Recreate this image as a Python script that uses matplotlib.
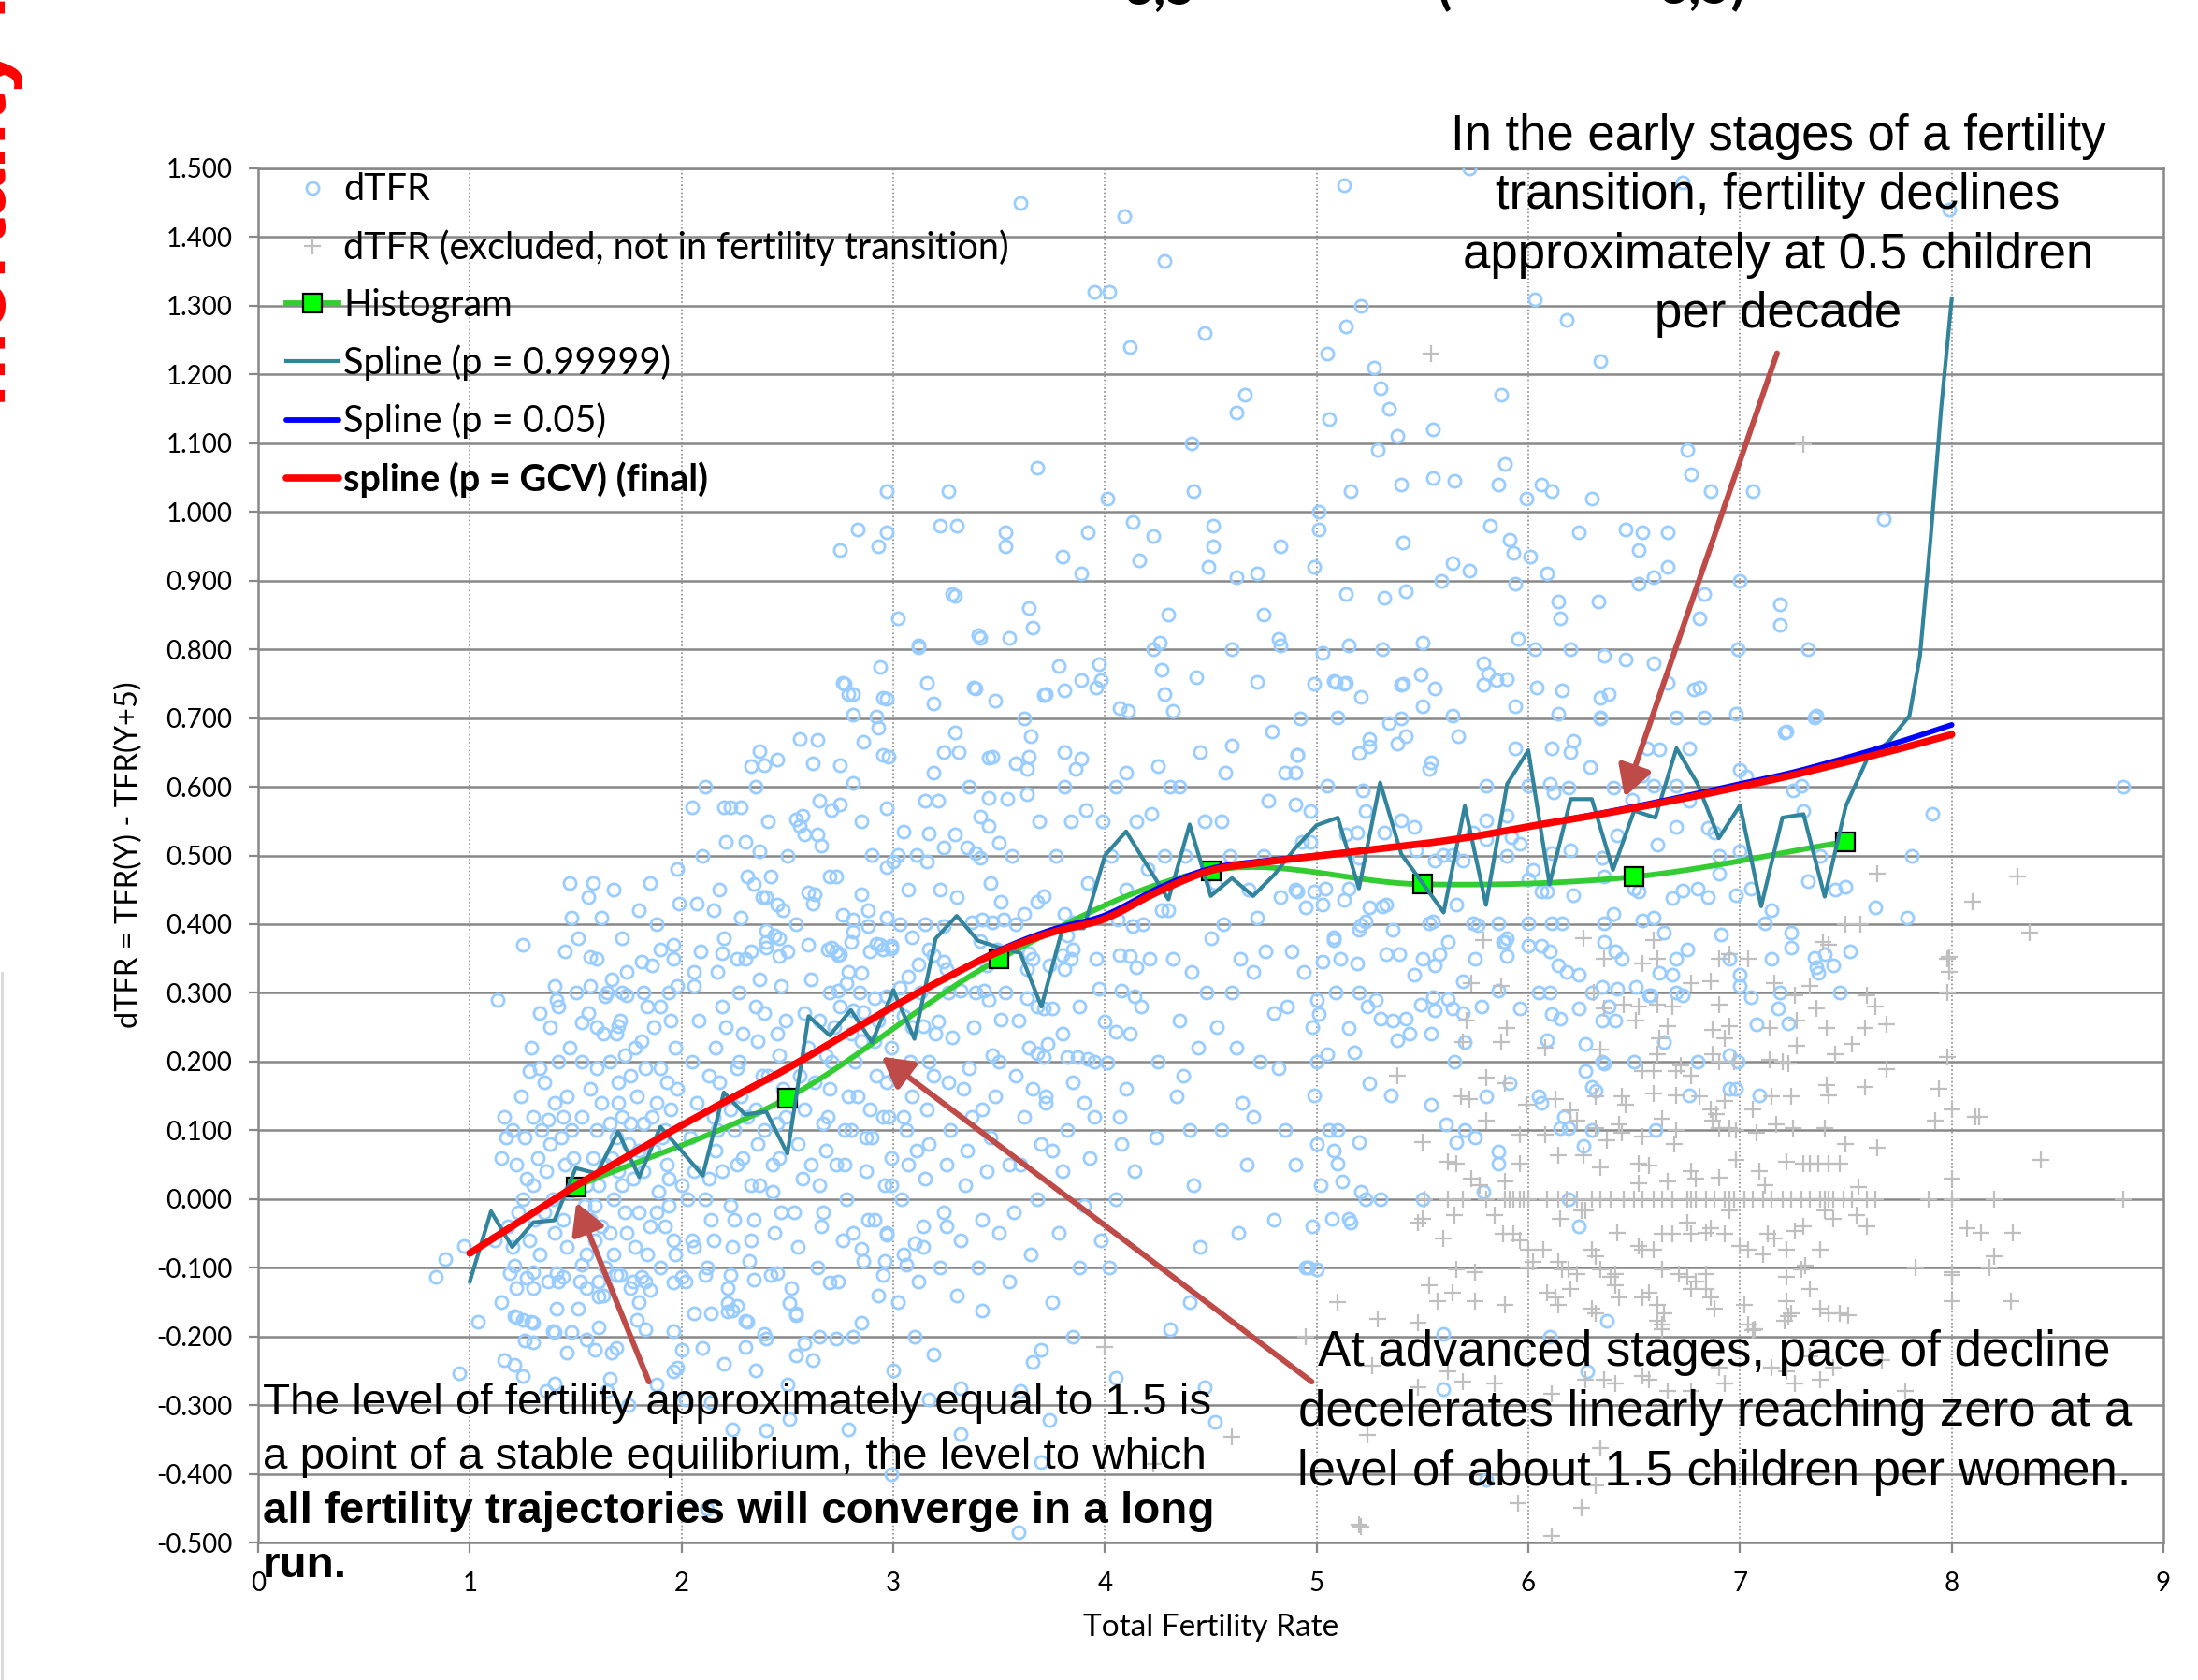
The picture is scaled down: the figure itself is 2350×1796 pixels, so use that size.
import matplotlib
matplotlib.use("Agg")
import matplotlib.pyplot as plt
from matplotlib.lines import Line2D
import numpy as np

# ---------------------------------------------------------------- data
# dTFR observations (open circles), grouped by TFR range
dtfr_pts_a = [(0.84,-0.113),(0.885,-0.088),(0.97,-0.068),(0.95,-0.253),(1.04,-0.179),(1.13,0.29),(1.25,0.37),
    (1.28,0.186),(1.37,0.116),(1.41,0.29),(1.16,-0.235),(1.21,-0.242),(1.25,-0.258),(1.30,-0.208),(1.21,-0.171),
    (1.25,-0.176),(1.30,-0.18),(1.40,-0.269),(1.40,-0.194),(1.48,-0.194),(1.46,-0.224),(1.22,-0.172),(1.29,-0.179),
    (1.26,-0.206),(1.39,-0.192),(1.30,-0.106),(1.27,-0.115),(1.19,-0.108),(1.21,-0.097),(1.41,-0.108),(1.44,-0.113),
    (1.15,0.06),(1.17,0.09),(1.2,0.1),(1.22,0.05),(1.25,0.0),(1.18,-0.04),(1.2,-0.07),(1.15,-0.15),(1.3,-0.13),
    (1.28,-0.06),(1.3,0.02),(1.32,0.06),(1.3,0.12),(1.35,0.17),(1.33,0.19),(1.38,0.08),(1.4,0.14),(1.42,0.2),
    (1.38,0.25),(1.4,0.31),(1.45,0.36),(1.48,0.41),(1.47,0.46),(1.35,-0.02),(1.4,-0.05),(1.42,-0.12),(1.45,0.05),
    (1.48,0.1),(1.46,0.15),(1.42,0.28),(1.36,-0.28),(1.22,-0.13),(1.12,-0.06),(1.33,-0.08),(1.44,-0.03),
    (1.47,0.01),(1.36,0.04),(1.43,0.09),(1.26,0.09),(1.16,0.12),
    (1.23,-0.02),(1.27,0.03),(1.31,-0.03),(1.34,0.1),(1.37,-0.12),(1.39,0.0),(1.41,-0.16),(1.44,0.12),
    (1.46,-0.07),(1.49,0.06),(1.51,-0.16),(1.53,0.12),(1.55,-0.13),(1.57,0.16),(1.59,-0.01),(1.24,0.15),
    (1.29,0.22),(1.33,0.27),(1.47,0.22),(1.5,0.3)]
dtfr_pts_b = [(1.55,-0.205),(1.59,-0.219),(1.67,-0.224),(1.69,-0.217),(1.61,-0.187),(1.66,-0.262),(1.79,-0.176),
    (1.83,-0.19),(1.96,-0.192),(1.98,-0.246),(1.96,-0.251),(1.53,-0.095),(1.61,-0.12),(1.61,-0.142),(1.69,-0.111),
    (1.77,-0.12),(1.81,-0.113),(1.85,-0.133),(1.96,-0.122),(2.0,-0.113),(1.57,0.352),(1.53,0.257),(1.70,0.252),
    (1.74,0.297),(1.64,0.295),(1.67,0.32),(1.81,0.345),(1.90,0.363),(1.96,0.35),
    (1.52,-0.12),(1.55,-0.08),(1.57,-0.03),(1.55,0.02),(1.58,0.06),(1.6,0.1),(1.62,0.14),(1.6,0.19),(1.63,0.24),
    (1.65,0.3),(1.6,0.35),(1.62,0.41),(1.58,0.46),(1.64,-0.1),(1.66,-0.05),(1.68,0.0),(1.7,0.04),(1.69,0.09),
    (1.72,0.12),(1.7,0.17),(1.73,0.21),(1.71,0.26),(1.74,0.33),(1.72,0.38),(1.76,-0.13),(1.78,-0.07),(1.8,-0.02),
    (1.77,0.03),(1.8,0.07),(1.82,0.11),(1.79,0.15),(1.83,0.19),(1.81,0.23),(1.84,0.28),(1.86,0.34),(1.88,0.4),
    (1.85,0.46),(1.9,-0.1),(1.92,-0.04),(1.89,0.01),(1.93,0.05),(1.91,0.09),(1.95,0.13),(1.93,0.17),(1.97,0.22),
    (1.95,0.26),(1.98,0.31),(1.96,0.37),(1.99,0.43),(1.98,0.48),(1.53,0.2),(1.56,0.27),(1.57,0.31),(1.51,0.38),
    (1.54,-0.01),(1.59,-0.06),(1.67,0.06),(1.75,0.08),(1.87,0.07),(1.94,-0.01),(1.61,0.02),(1.73,-0.02),
    (1.85,-0.04),(1.88,0.14),(1.76,0.18),(1.66,0.2),(1.69,0.24),(1.82,0.3),(1.9,0.28),(1.63,-0.14),(1.71,-0.11),
    (1.83,-0.12),(1.97,-0.08),(1.8,0.42),(1.68,0.45),(1.56,0.44),
    (1.62,-0.04),(1.64,0.05),(1.66,0.11),(1.68,-0.08),(1.7,0.14),(1.72,0.02),(1.74,-0.05),(1.76,0.11),
    (1.78,0.22),(1.8,-0.15),(1.82,0.04),(1.84,-0.08),(1.86,0.12),(1.88,-0.02),(1.9,0.19),(1.92,0.1),(1.94,0.03),
    (1.96,-0.06),(1.98,0.16),(2.0,0.02),(1.65,-0.28),(1.75,-0.3),(1.88,-0.27),(2.0,-0.22),(1.72,0.3),(1.6,0.25),
    (1.87,0.25),(1.94,0.3)]
dtfr_pts_c = [(2.06,-0.167),(2.14,-0.167),(2.22,-0.164),(2.30,-0.178),(2.24,-0.162),(2.10,-0.217),(2.30,-0.215),
    (2.39,-0.196),(2.40,-0.203),(2.40,-0.337),(2.24,-0.335),(2.02,-0.292),(2.14,-0.296),(2.12,-0.451),(2.06,-0.07),
    (2.11,-0.111),(2.22,-0.151),(2.26,-0.156),(2.31,-0.179),(2.23,-0.111),(2.34,-0.117),(2.45,-0.108),(2.06,0.331),
    (2.19,0.358),(2.26,0.35),(2.33,0.361),(2.40,0.374),(2.46,0.379),(2.46,0.354),(2.37,0.652),(2.39,0.631),
    (2.44,0.384),(2.40,0.366),(2.37,0.506),(2.34,0.459),(2.45,0.428),(2.40,0.439),(2.05,0.57),(2.2,0.57),
    (2.28,0.57),(2.33,0.63),
    (2.02,-0.12),(2.05,-0.06),(2.03,0.0),(2.06,0.04),(2.04,0.09),(2.07,0.14),(2.05,0.2),(2.08,0.26),(2.06,0.31),
    (2.09,0.36),(2.07,0.43),(2.1,0.5),(2.12,-0.1),(2.14,-0.03),(2.13,0.03),(2.16,0.07),(2.15,0.12),(2.18,0.17),
    (2.16,0.22),(2.19,0.28),(2.17,0.33),(2.2,0.38),(2.18,0.45),(2.21,0.52),(2.22,-0.13),(2.24,-0.07),(2.23,-0.01),
    (2.26,0.05),(2.25,0.1),(2.28,0.15),(2.26,0.19),(2.29,0.24),(2.27,0.3),(2.3,0.35),(2.28,0.41),(2.31,0.47),
    (2.32,-0.09),(2.34,-0.03),(2.33,0.02),(2.36,0.08),(2.35,0.13),(2.38,0.18),(2.36,0.23),(2.39,0.27),(2.37,0.32),
    (2.4,0.39),(2.38,0.44),(2.41,0.55),(2.42,-0.11),(2.44,-0.05),(2.43,0.01),(2.46,0.06),(2.45,0.11),(2.48,0.16),
    (2.46,0.21),(2.49,0.26),(2.47,0.31),(2.5,0.36),(2.48,0.42),(2.5,0.5),(2.11,0.6),(2.23,0.57),(2.35,0.6),(2.45,0.64),
    (2.11,0.0),(2.13,0.18),(2.15,-0.06),(2.17,0.1),(2.19,0.04),(2.21,0.25),(2.23,0.13),(2.25,-0.03),(2.27,0.2),
    (2.29,0.06),(2.31,0.12),(2.33,-0.06),(2.35,0.28),(2.37,0.02),(2.39,0.1),(2.41,0.18),(2.43,0.05),(2.45,0.24),
    (2.47,-0.02),(2.49,0.12),(2.2,-0.24),(2.35,-0.25),(2.5,-0.27),(2.15,0.42),(2.3,0.52),(2.42,0.47)]
dtfr_pts_d = [(2.54,-0.169),(2.58,-0.21),(2.54,-0.228),(2.62,-0.235),(2.73,-0.203),(2.81,-0.201),(2.79,-0.335),
    (2.51,-0.32),(2.99,-0.40),(2.51,-0.151),(2.54,-0.167),(2.70,-0.122),(2.93,-0.14),(2.97,-0.052),(2.85,-0.072),
    (2.96,-0.09),(2.69,0.363),(2.75,0.356),(2.80,0.374),(2.94,0.37),(2.99,0.365),(2.56,0.67),(2.64,0.668),
    (2.62,0.634),(2.75,0.631),(2.86,0.665),(2.76,0.751),(2.81,0.735),(2.97,0.728),(2.92,0.702),(2.93,0.686),
    (2.90,0.501),(2.85,0.444),(2.76,0.413),(2.73,0.47),(2.63,0.444),(2.60,0.446),(2.54,0.4),(2.54,0.553),
    (2.57,0.558),(2.56,0.543),(2.58,0.53),(2.64,0.53),(2.66,0.514),(2.71,0.566),(2.75,0.574),(2.81,0.605),
    (2.97,0.569),(2.98,0.644),(2.95,0.647),(2.97,0.483),(2.88,0.42),(2.81,0.407),(2.71,0.366),(2.74,0.355),
    (2.81,0.389),(2.88,0.397),(2.92,0.371),(2.95,0.363),(2.99,0.368),(2.91,0.293),(2.86,0.272),(2.81,0.274),
    (2.74,0.303),(2.78,0.314),(2.85,0.329),(2.97,0.295),(2.83,0.975),(2.75,0.945),(2.97,1.03),(2.94,0.775),
    (2.77,0.75),(2.79,0.735),(2.81,0.705),(2.95,0.73),
    (2.52,-0.13),(2.55,-0.07),(2.53,-0.02),(2.57,0.03),(2.55,0.08),(2.58,0.13),(2.56,0.18),(2.6,0.22),(2.58,0.27),
    (2.61,0.32),(2.6,0.37),(2.62,0.43),(2.64,-0.1),(2.66,-0.04),(2.65,0.02),(2.68,0.07),(2.67,0.11),(2.7,0.16),
    (2.68,0.21),(2.72,0.25),(2.7,0.3),(2.73,0.36),(2.74,-0.12),(2.76,-0.06),(2.78,0.0),(2.77,0.05),(2.8,0.1),
    (2.79,0.15),(2.82,0.2),(2.8,0.24),(2.84,0.3),(2.86,-0.09),(2.88,-0.03),(2.87,0.04),(2.9,0.09),(2.89,0.13),
    (2.92,0.18),(2.91,0.23),(2.95,-0.11),(2.97,-0.05),(2.96,0.02),(2.99,0.06),(2.98,0.12),(2.97,0.17),(2.99,0.22),
    (2.93,0.95),(2.97,0.97),
    (2.61,0.05),(2.63,0.17),(2.65,0.26),(2.67,-0.02),(2.69,0.12),(2.71,0.2),(2.73,0.05),(2.75,0.28),(2.77,0.1),
    (2.79,0.33),(2.81,-0.05),(2.83,0.15),(2.85,0.23),(2.87,0.09),(2.89,0.36),(2.91,-0.03),(2.93,0.26),(2.95,0.12),
    (2.97,0.41),(2.99,0.02),(2.65,-0.2),(2.85,-0.18),(2.7,0.47),(2.85,0.55),(2.65,0.58)]
dtfr_pts_e = [(3.19,-0.226),(3.42,-0.162),(3.32,-0.276),(3.32,-0.342),(3.17,-0.292),(3.1,-0.2),(3.06,-0.095),
    (3.1,-0.065),(3.14,-0.07),(3.25,-0.04),(3.02,0.845),(3.12,0.803),(3.16,0.751),(3.19,0.721),(3.29,0.878),
    (3.41,0.817),(3.39,0.743),(3.48,0.725),(3.29,0.679),(3.24,0.651),(3.31,0.651),(3.45,0.642),(3.47,0.644),
    (3.45,0.584),(3.41,0.556),(3.21,0.579),(3.45,0.543),(3.29,0.53),(3.24,0.511),(3.17,0.532),(3.35,0.511),
    (3.39,0.504),(3.41,0.496),(3.05,0.535),(3.11,0.501),(3.16,0.491),(3.02,0.501),(3.0,0.491),(3.09,0.381),
    (3.15,0.4),(3.24,0.397),(3.07,0.324),(3.12,0.342),(3.17,0.363),(3.19,0.355),(3.24,0.345),(3.25,0.334),
    (3.03,0.308),(3.05,0.267),(3.14,0.251),(3.21,0.259),(3.28,0.235),(3.32,0.303),(3.41,0.376),(3.42,0.407),
    (3.37,0.402),(3.47,0.402),(3.44,0.34),(3.43,0.303),(3.45,0.29),(3.49,0.363),(3.26,1.03),(3.22,0.98),
    (3.30,0.98),(3.28,0.88),(3.40,0.82),(3.12,0.805),(3.38,0.745),
    (3.02,-0.15),(3.05,-0.08),(3.04,0.0),(3.07,0.05),(3.06,0.1),(3.09,0.15),(3.08,0.2),(3.12,-0.12),(3.14,-0.04),
    (3.15,0.03),(3.17,0.08),(3.16,0.13),(3.19,0.18),(3.22,-0.1),(3.24,-0.02),(3.25,0.05),(3.27,0.1),(3.26,0.17),
    (3.3,-0.14),(3.32,-0.06),(3.34,0.02),(3.35,0.07),(3.37,0.12),(3.36,0.19),(3.4,-0.1),(3.42,-0.03),(3.44,0.04),
    (3.46,0.09),(3.48,0.15),(3.47,0.21),(3.5,-0.05),(3.2,0.24),(3.38,0.25),
    (3.01,0.18),(3.03,0.4),(3.05,0.12),(3.07,0.45),(3.09,0.25),(3.11,0.07),(3.13,0.3),(3.15,0.58),(3.17,0.2),
    (3.19,0.62),(3.0,-0.25),(3.22,0.45),(3.26,0.3),(3.3,0.44),(3.33,0.16),(3.36,0.6),(3.39,0.3),(3.42,0.13),
    (3.46,0.46)]
dtfr_pts_f = [(3.66,-0.237),(3.74,-0.321),(3.70,-0.383),(3.59,-0.485),(3.55,0.816),(3.66,0.831),(3.78,0.776),
    (3.97,0.778),(3.89,0.755),(3.71,0.733),(3.65,0.673),(3.58,0.634),(3.63,0.626),(3.64,0.644),(3.81,0.651),
    (3.86,0.626),(3.89,0.641),(3.81,0.6),(3.91,0.566),(3.63,0.589),(3.54,0.582),(3.5,0.519),(3.51,0.433),
    (3.52,0.407),(3.58,0.4),(3.62,0.415),(3.68,0.433),(3.71,0.441),(3.81,0.415),(3.85,0.402),(3.82,0.384),
    (3.8,0.355),(3.85,0.363),(3.84,0.35),(3.81,0.334),(3.64,0.358),(3.66,0.35),(3.63,0.334),(3.63,0.293),
    (3.68,0.28),(3.71,0.277),(3.75,0.277),(3.51,0.261),(3.64,0.22),(3.68,0.212),(3.71,0.207),(3.73,0.225),
    (3.72,0.149),(3.82,0.207),(3.87,0.207),(3.92,0.204),(3.95,0.2),(3.97,0.306),(3.60,1.45),(3.95,1.32),
    (3.68,1.065),(3.53,0.97),(3.53,0.95),(3.92,0.97),(3.80,0.935),(3.89,0.91),(3.64,0.86),(3.72,0.735),
    (3.81,0.74),(3.96,0.745),(3.98,0.755),
    (3.55,-0.12),(3.57,-0.02),(3.6,0.05),(3.62,0.12),(3.58,0.18),(3.65,-0.08),(3.68,0.0),(3.7,0.08),(3.72,0.14),
    (3.75,-0.15),(3.78,-0.05),(3.8,0.04),(3.82,0.1),(3.85,0.17),(3.88,-0.1),(3.9,-0.01),(3.93,0.06),(3.95,0.12),
    (3.98,-0.06),(3.6,-0.28),(3.7,-0.22),(3.85,-0.2),
    (3.5,0.2),(3.53,0.3),(3.56,0.5),(3.59,0.26),(3.62,0.7),(3.66,0.16),(3.69,0.55),(3.74,0.34),(3.77,0.5),
    (3.8,0.24),(3.84,0.55),(3.88,0.28),(3.92,0.46),(3.96,0.35),(3.99,0.55),(3.55,0.05),(3.75,0.07),(3.9,0.14)]
dtfr_pts_g = [(4.31,-0.19),(4.05,-0.26),(4.47,-0.274),(4.52,-0.324),(4.01,0.199),(4.0,0.259),(4.05,0.243),
    (4.08,0.303),(4.14,0.295),(4.15,0.337),(4.07,0.355),(4.12,0.353),(4.06,0.407),(4.13,0.397),(4.09,1.43),
    (4.28,1.365),(4.02,1.32),(4.12,1.24),(4.47,1.26),(4.66,1.17),(4.62,1.145),(4.41,1.10),(4.42,1.03),(4.01,1.02),
    (4.13,0.985),(4.23,0.965),(4.51,0.98),(4.51,0.95),(4.83,0.95),(4.16,0.93),(4.49,0.92),(4.72,0.91),(4.62,0.905),
    (4.99,0.92),(4.26,0.81),(4.23,0.80),(4.82,0.815),(4.83,0.805),(4.07,0.715),(4.11,0.71),(4.27,0.77),(4.28,0.735),
    (4.32,0.71),(4.43,0.76),(4.72,0.753),(4.99,0.75),(4.91,0.647),(4.90,0.62),(4.90,0.574),(4.97,0.565),
    (4.91,0.447),(4.95,0.424),
    (4.02,-0.1),(4.05,0.0),(4.08,0.08),(4.1,0.16),(4.12,0.24),(4.18,0.4),(4.2,0.48),(4.22,0.56),(4.25,0.63),
    (4.28,0.5),(4.3,0.42),(4.32,0.35),(4.35,0.26),(4.37,0.18),(4.4,0.1),(4.42,0.02),(4.45,-0.07),(4.48,0.3),
    (4.5,0.38),(4.52,0.46),(4.55,0.55),(4.57,0.62),(4.6,0.3),(4.62,0.22),(4.65,0.14),(4.67,0.05),(4.7,0.33),
    (4.72,0.41),(4.75,0.5),(4.77,0.58),(4.8,0.27),(4.82,0.19),(4.85,0.1),(4.88,0.36),(4.9,0.45),(4.93,0.52),
    (4.95,-0.1),(4.98,0.25),(4.05,0.6),(4.15,0.55),(4.35,0.6),(4.45,0.65),(4.6,0.66),(4.85,0.62),(4.92,0.7),
    (4.1,0.45),(4.25,0.2),(4.4,-0.15),(4.55,0.1),(4.7,0.12),(4.8,-0.03),(4.63,-0.05),(4.98,-0.04),
    (4.03,0.5),(4.07,0.12),(4.1,0.62),(4.14,0.04),(4.17,0.28),(4.21,0.35),(4.24,0.09),(4.27,0.42),(4.31,0.6),
    (4.34,0.15),(4.38,0.5),(4.41,0.33),(4.44,0.22),(4.47,0.55),(4.53,0.25),(4.56,0.4),(4.59,0.5),(4.64,0.35),
    (4.68,0.45),(4.73,0.2),(4.76,0.36),(4.79,0.68),(4.83,0.44),(4.86,0.28),(4.9,0.05),(4.94,0.33),(4.97,0.52),
    (4.6,0.8),(4.3,0.85),(4.75,0.85)]
dtfr_pts_h = [(5.13,1.475),(5.72,1.50),(6.73,1.48),(5.21,1.30),(6.03,1.31),(6.18,1.28),(5.14,1.27),(5.05,1.23),
    (6.34,1.22),(5.27,1.21),(5.30,1.18),(5.87,1.17),(5.34,1.15),(5.06,1.135),(5.55,1.12),(5.38,1.11),(5.29,1.09),
    (6.75,1.09),(5.89,1.07),(5.65,1.045),(5.55,1.05),(5.40,1.04),(6.06,1.04),(5.86,1.04),(5.16,1.03),(6.11,1.03),
    (6.30,1.02),(6.77,1.055),(6.86,1.03),(7.06,1.03),(5.99,1.02),(5.01,1.00),(5.01,0.975),(5.41,0.955),(5.82,0.98),
    (5.91,0.96),(5.93,0.94),(6.24,0.97),(6.46,0.975),(6.54,0.97),(6.52,0.945),(6.66,0.97),(6.66,0.92),(5.64,0.925),
    (5.72,0.915),(5.59,0.90),(6.01,0.935),(6.09,0.91),(5.94,0.895),(7.0,0.90),(6.33,0.87),(6.14,0.87),(6.15,0.845),
    (6.20,0.80),(6.52,0.895),(6.59,0.905),(5.14,0.88),(5.32,0.875),(5.42,0.885),(6.81,0.845),(7.19,0.865),
    (7.19,0.835),(6.83,0.88),(6.99,0.80),(7.32,0.80),(5.15,0.805),(5.50,0.81),(5.03,0.795),(5.31,0.80),(5.95,0.815),
    (6.03,0.80),(5.79,0.78),(5.81,0.765),(5.90,0.757),(6.36,0.79),(6.46,0.785),(6.59,0.78),(5.09,0.753),(5.13,0.75),
    (5.41,0.75),(5.56,0.743),(5.85,0.755),(6.04,0.745),(6.34,0.73),(6.34,0.70),(6.14,0.706),(6.81,0.745),
    (6.98,0.706),(7.36,0.704),(7.22,0.68)]
dtfr_pts_i = [(5.08,0.754),(5.14,0.751),(5.21,0.731),(5.4,0.749),(5.49,0.763),(5.79,0.749),(5.94,0.717),
    (6.16,0.74),(6.38,0.735),(6.66,0.751),(6.78,0.742),(5.5,0.717),(5.1,0.701),(5.34,0.692),(5.4,0.699),
    (5.64,0.704),(5.67,0.674),(5.25,0.67),(5.25,0.658),(5.2,0.649),(5.38,0.663),(5.42,0.674),(4.91,0.647),
    (5.54,0.635),(5.53,0.626),(5.94,0.656),(6.11,0.656),(6.21,0.667),(6.2,0.651),(6.29,0.629),(6.34,0.701),
    (6.7,0.701),(6.83,0.701),(7.35,0.701),(7.21,0.679),(6.56,0.656),(6.62,0.654),(6.76,0.656),(7.0,0.624),
    (7.03,0.615),(6.54,0.617),(6.59,0.601),(6.7,0.601),(6.76,0.579),(6.4,0.599),(6.1,0.604),(6.12,0.592),
    (6.19,0.599),(6.0,0.601),(5.8,0.601),(5.05,0.601),(5.22,0.595),(5.23,0.565),(7.25,0.594),(7.29,0.601),
    (7.3,0.565),(7.91,0.56),(7.81,0.499),(7.64,0.424),(7.79,0.41),(6.49,0.581),(5.9,0.558),(5.8,0.551),(5.4,0.551),
    (5.46,0.542),(5.32,0.533),(5.19,0.533),(5.14,0.531),(5.2,0.497),(5.15,0.451),(5.33,0.429),(5.03,0.429),
    (5.47,0.508),(5.56,0.492),(5.6,0.501),(5.64,0.501),(5.69,0.492),(5.74,0.533),(5.8,0.524),(5.9,0.499),
    (5.92,0.527),(5.96,0.517),(6.11,0.504),(6.2,0.508),(6.06,0.447),(6.09,0.447),(6.21,0.442),(6.02,0.479),
    (6.0,0.465),(6.35,0.497),(6.36,0.47),(6.42,0.529),(6.5,0.451),(6.52,0.447),(6.61,0.515),(6.7,0.542),
    (6.85,0.54),(6.88,0.533),(7.0,0.506),(6.9,0.499),(6.9,0.474),(7.05,0.451),(6.98,0.442),(6.68,0.438),
    (6.73,0.449),(6.8,0.451),(6.85,0.44),(7.32,0.463),(7.5,0.454),(7.24,0.388),(7.12,0.401),(6.91,0.385),
    (6.64,0.388),(6.4,0.415),(6.36,0.401),(6.54,0.406),(6.59,0.41),(6.11,0.401),(6.16,0.401),(6.0,0.401),
    (5.86,0.401),(5.74,0.401),(5.9,0.379),(5.88,0.374),(5.76,0.399),(5.66,0.429),(5.55,0.404),(5.53,0.401),
    (5.36,0.392),(5.21,0.399),(5.2,0.392),(5.23,0.404),(5.08,0.381),(5.25,0.424),(5.31,0.426),(5.13,0.435),
    (5.04,0.451),(4.99,0.447),(7.68,0.99),(7.99,1.44),(8.81,0.6)]
dtfr_pts_j = [(5.08,0.377),(5.03,0.346),(5.11,0.349),(5.19,0.343),(5.33,0.357),(5.39,0.357),(5.46,0.326),
    (5.5,0.349),(5.56,0.34),(5.58,0.357),(5.62,0.374),(5.75,0.349),(5.89,0.374),(5.9,0.354),(6.0,0.369),
    (6.06,0.369),(6.1,0.36),(6.14,0.34),(6.18,0.331),(6.24,0.326),(6.36,0.374),(6.41,0.36),(6.44,0.349),
    (6.51,0.309),(6.58,0.297),(6.62,0.329),(6.68,0.326),(6.7,0.349),(6.75,0.363),(6.95,0.349),(7.0,0.326),
    (7.15,0.349),(7.24,0.366),(7.35,0.351),(7.37,0.329),(7.44,0.34),(5.0,0.289),(5.01,0.269),(5.09,0.3),(5.2,0.3),
    (5.24,0.28),(5.28,0.289),(5.3,0.263),(5.36,0.26),(5.42,0.263),(5.49,0.283),(5.55,0.294),(5.56,0.274),
    (5.62,0.291),(5.64,0.277),(5.69,0.271),(5.78,0.28),(5.69,0.317),(5.86,0.303),(5.96,0.277),(6.05,0.3),
    (6.1,0.3),(6.11,0.269),(6.15,0.263),(6.24,0.277),(6.3,0.3),(6.35,0.309),(6.38,0.28),(6.42,0.306),(6.35,0.26),
    (6.41,0.26),(6.57,0.297),(6.7,0.3),(6.73,0.297),(7.05,0.294),(7.18,0.277),(7.08,0.254),(5.15,0.249),
    (5.38,0.231),(5.44,0.24),(5.54,0.24),(5.7,0.229),(5.18,0.214),(5.05,0.211),(5.0,0.2),(5.65,0.2),(6.09,0.231),
    (6.27,0.226),(6.35,0.2),(6.36,0.197),(6.27,0.186),(6.5,0.2),(6.8,0.2),(6.99,0.2),(6.64,0.229),(5.25,0.169),
    (5.35,0.151),(5.54,0.137),(5.8,0.149),(5.91,0.169),(6.05,0.149),(6.06,0.14),(6.3,0.163),(6.32,0.157),
    (6.76,0.151),(6.95,0.16),(7.09,0.151),(4.99,0.151),(6.17,0.12),(6.15,0.103),(6.19,0.103),(6.3,0.1),(6.6,0.1),
    (5.06,0.1),(5.1,0.1),(5.2,0.083),(5.0,0.08),(5.08,0.071),(5.1,0.051),(5.61,0.109),(5.7,0.1),(5.66,0.083),
    (5.75,0.089),(5.86,0.069),(5.86,0.051),(6.26,0.077),(5.02,0.02),(5.12,0.026),(5.21,0.011),(5.23,0.0),(5.3,0.0),
    (5.5,0.0),(5.79,0.011),(6.19,0.0),(5.07,-0.029),(5.15,-0.029),(5.16,-0.034),(6.24,-0.04),(5.0,-0.103),
    (4.96,-0.1),(6.37,-0.177),(5.6,-0.197),(6.1,-0.2),(6.28,-0.251),(5.6,-0.277),(5.8,-0.409),(7.36,0.337),
    (7.4,0.357),(7.19,0.3),(7.23,0.255),(7.0,0.31),(6.98,0.16),(6.95,0.21),(7.45,0.45),(7.15,0.42),(7.38,0.5),
    (7.47,0.3),(7.52,0.36)]

# dTFR excluded (not in fertility transition), grey crosses
excl_pts_a = [(5.79,0.377),(6.26,0.38),(6.59,0.377),(7.39,0.374),(7.42,0.37),(7.98,0.35),(6.36,0.35),(6.54,0.343),
    (6.61,0.35),(6.90,0.35),(6.95,0.357),(7.04,0.35),(5.73,0.314),(5.87,0.31),(6.31,0.30),(6.52,0.28),(6.61,0.283),
    (6.68,0.28),(6.77,0.314),(6.86,0.317),(6.90,0.283),(7.16,0.314),(7.33,0.31),(7.26,0.297),(7.6,0.297),
    (7.64,0.28),(7.98,0.30),(7.36,0.277),(7.27,0.26),(7.41,0.249),(7.59,0.249),(7.69,0.254),(6.95,0.251),
    (6.87,0.246),(7.14,0.249),(6.45,0.283),(6.36,0.277),(6.51,0.26),(6.66,0.251),(5.71,0.26),(5.90,0.249),
    (5.87,0.229),(5.69,0.229),(6.08,0.22),(6.34,0.217),(6.62,0.234),(6.93,0.234),(7.27,0.223),(7.45,0.211),
    (7.53,0.226),(6.61,0.211),(6.72,0.194),(6.70,0.186),(6.77,0.18),(6.87,0.211),(6.90,0.2),(6.97,0.2),(7.14,0.203),
    (7.2,0.2),(7.23,0.197),(7.69,0.189),(7.98,0.206),(6.54,0.186),(6.59,0.186),(5.38,0.18),(5.8,0.177),(5.89,0.169),
    (5.68,0.149),(5.72,0.146),(5.99,0.137),(6.13,0.146),(6.2,0.129),(6.32,0.149),(6.44,0.149),(6.46,0.137),
    (6.59,0.154),(6.70,0.151),(6.81,0.149),(6.86,0.131),(6.89,0.123),(6.93,0.143),(7.06,0.131),(7.15,0.149),
    (7.24,0.149),(7.41,0.166),(7.42,0.151),(7.59,0.163),(5.8,0.114),(5.96,0.094),(6.08,0.094),(6.23,0.114),
    (6.32,0.103),(6.37,0.086),(6.44,0.097),(6.43,0.109),(6.54,0.091),(6.63,0.117),(6.70,0.1),(6.69,0.08),
    (6.87,0.114),(6.9,0.103),(6.95,0.103),(6.98,0.1),(7.08,0.097),(7.17,0.109),(7.25,0.103),(7.40,0.103),(7.5,0.08),
    (7.65,0.074),(7.92,0.114),(8.11,0.12),(8.42,0.057),(5.5,0.083),(5.62,0.054),(5.66,0.051),(5.73,0.029),
    (5.77,0.02),(5.89,0.026),(5.96,0.051),(6.14,0.063),(6.26,0.063),(6.34,0.046),(6.52,0.051),(6.57,0.049),
    (6.77,0.04),(6.79,0.029),(6.52,0.023),(6.66,0.026),(6.9,0.031),(6.98,0.057),(7.09,0.04),(7.12,0.02),(7.22,0.054),
    (7.3,0.052),(7.33,0.052),(7.37,0.052),(7.42,0.052),(7.47,0.052),(7.56,0.017)]
excl_zero_x = [5.51,5.62,5.69,5.80,5.89,5.91,5.93,5.96,5.98,6.0,6.09,6.14,6.18,6.23,6.30,6.34,6.39,6.45,6.50,
    6.54,6.59,6.63,6.68,6.75,6.77,6.79,6.84,6.88,6.93,6.95,6.97,7.02,7.06,7.11,7.15,7.20,7.24,7.29,7.33,7.38,
    7.40,7.42,7.44,7.49,7.53,7.60,7.64,7.89,8.0,8.2,8.81]
excl_pts_b = [(5.48,-0.034),(5.5,-0.029),(5.6,-0.057),(5.65,-0.023),(5.84,-0.023),(5.88,-0.051),(5.93,-0.051),
    (5.96,-0.06),(6.0,-0.074),(6.07,-0.074),(6.02,-0.091),(6.15,-0.029),(6.25,-0.017),(6.27,-0.017),(6.42,-0.049),
    (6.3,-0.074),(6.32,-0.083),(6.52,-0.069),(6.54,-0.074),(6.59,-0.074),(6.63,-0.051),(6.68,-0.051),(6.75,-0.034),
    (6.77,-0.051),(6.84,-0.049),(6.86,-0.043),(6.93,-0.051),(6.95,-0.017),(7.0,-0.069),(7.04,-0.074),(7.11,-0.08),
    (7.13,-0.051),(7.16,-0.057),(7.22,-0.074),(7.26,-0.046),(7.3,-0.04),(7.4,-0.017),(7.44,-0.029),(7.55,-0.023),
    (7.6,-0.04),(8.07,-0.043),(8.14,-0.049),(8.2,-0.083),(7.83,-0.1),(8.0,-0.106),(5.66,-0.103),(5.75,-0.106),
    (6.0,-0.1),(6.19,-0.103),(6.23,-0.109),(6.14,-0.091),(6.16,-0.103),(6.34,-0.103),(6.41,-0.109),(6.63,-0.103),
    (6.71,-0.109),(6.75,-0.114),(6.79,-0.12),(6.84,-0.109),(7.22,-0.114),(7.29,-0.103),(7.31,-0.097),(7.38,-0.074),
    (5.53,-0.126),(5.57,-0.149),(5.64,-0.137),(5.75,-0.149),(5.89,-0.154),(6.09,-0.137),(6.13,-0.143),
    (6.14,-0.154),(6.2,-0.131),(6.3,-0.16),(6.32,-0.166),(6.39,-0.114),(6.41,-0.126),(6.43,-0.143),(6.54,-0.143),
    (6.57,-0.137),(6.61,-0.154),(6.64,-0.166),(6.77,-0.131),(6.84,-0.131),(6.86,-0.143),(6.88,-0.16),(7.02,-0.154),
    (7.22,-0.149),(7.24,-0.166),(7.33,-0.131),(7.38,-0.16),(7.42,-0.166),(7.47,-0.166),(7.51,-0.169),(8.0,-0.149),
    (8.28,-0.149),(5.29,-0.174),(5.48,-0.18),(6.61,-0.177),(6.63,-0.183),(6.63,-0.189),(7.04,-0.183),(7.06,-0.191),
    (7.07,-0.189),(7.21,-0.177),(7.23,-0.171),(5.26,-0.243),(5.48,-0.274),(5.62,-0.251),(5.69,-0.266),(5.84,-0.269),
    (5.24,-0.343),(5.95,-0.443),(6.25,-0.449),(5.2,-0.474),(6.11,-0.491),(6.34,-0.363),(6.32,-0.417),(6.27,-0.263),
    (6.36,-0.263),(6.41,-0.269),(6.54,-0.257),(6.57,-0.263),(6.66,-0.28),(6.77,-0.28),(6.9,-0.246),(6.93,-0.269),
    (7.15,-0.246),(7.22,-0.251),(7.26,-0.269),(7.38,-0.263),(7.44,-0.246),(7.78,-0.28),(6.11,-0.283),(7.33,-0.229),
    (7.67,-0.234),(5.21,-0.477),(4.0,-0.215),(4.6,-0.346),(4.23,-0.385),(5.54,1.23),(7.3,1.099),(8.1,0.432),
    (8.31,0.47),(8.37,0.387),(7.65,0.473),(7.99,0.352),(7.57,0.4),(7.5,0.40),(7.94,0.16),(8.0,0.13),(8.13,0.12),
    (8.0,0.03),(8.29,-0.05),(8.18,-0.1),(8.0,-0.11),(7.99,0.33),(4.95,-0.2),(5.1,-0.15)]

# Histogram (bin means)
hist_x = [1.5, 2.5, 3.5, 4.5, 5.5, 6.5, 7.5]
hist_y = [0.018, 0.147, 0.349, 0.478, 0.458, 0.469, 0.520]

# Spline (p = 0.99999)
spl_hi_x = [1.0,1.1,1.2,1.3,1.4,1.5,1.6,1.7,1.8,1.9,2.0,2.1,2.2,2.3,2.4,2.5,2.6,2.7,2.8,2.9,3.0,3.1,3.2,3.3,
    3.4,3.5,3.6,3.7,3.8,3.9,4.0,4.1,4.2,4.3,4.4,4.5,4.6,4.7,4.8,4.9,5.0,5.1,5.2,5.3,5.4,5.5,5.6,5.7,5.8,5.9,
    6.0,6.1,6.2,6.3,6.4,6.5,6.6,6.7,6.8,6.9,7.0,7.1,7.2,7.3,7.4,7.5,7.6,7.7,7.8,7.85,7.9,7.95,8.0]
spl_hi_y = [-0.12,-0.018,-0.07,-0.034,-0.031,0.045,0.037,0.098,0.032,0.105,0.07,0.034,0.155,0.123,0.127,0.066,
    0.266,0.238,0.275,0.228,0.304,0.233,0.379,0.412,0.376,0.366,0.358,0.28,0.394,0.394,0.50,0.535,0.485,0.436,
    0.545,0.441,0.467,0.441,0.472,0.511,0.544,0.555,0.452,0.606,0.502,0.46,0.417,0.572,0.428,0.604,0.653,0.458,
    0.582,0.582,0.479,0.565,0.555,0.656,0.604,0.525,0.573,0.426,0.555,0.56,0.44,0.572,0.64,0.665,0.703,0.79,
    0.96,1.15,1.31]

# Spline (p = 0.05) and spline (p = GCV)
spl_x = [1.0,1.25,1.5,1.75,2.0,2.25,2.5,2.75,3.0,3.25,3.5,3.75,4.0,4.25,4.5,4.75,5.0,5.25,5.5,5.75,6.0,6.25,
    6.5,6.75,7.0,7.25,7.5,7.75,8.0]
spl_005_y = [-0.079,-0.03,0.019,0.063,0.107,0.149,0.191,0.235,0.28,0.322,0.362,0.392,0.413,0.452,0.481,0.492,
    0.50,0.508,0.517,0.528,0.542,0.556,0.571,0.587,0.604,0.621,0.642,0.665,0.69]
spl_gcv_y = [-0.079,-0.03,0.019,0.063,0.107,0.149,0.19,0.235,0.28,0.322,0.36,0.388,0.408,0.447,0.478,0.49,
    0.499,0.508,0.517,0.528,0.542,0.555,0.569,0.584,0.600,0.617,0.636,0.655,0.676]

y_ticks = [round(-0.5 + 0.1 * i, 1) for i in range(21)]
x_ticks = list(range(0, 10))

# ---------------------------------------------------------------- helpers
def smooth(xs, ys, n=16):
    xs = np.asarray(xs, float); ys = np.asarray(ys, float)
    px = np.concatenate([[2 * xs[0] - xs[1]], xs, [2 * xs[-1] - xs[-2]]])
    py = np.concatenate([[2 * ys[0] - ys[1]], ys, [2 * ys[-1] - ys[-2]]])
    ox, oy = [], []
    t = np.linspace(0, 1, n, endpoint=False)
    for i in range(1, len(px) - 2):
        for arr, out in ((px, ox), (py, oy)):
            p0, p1, p2, p3 = arr[i - 1], arr[i], arr[i + 1], arr[i + 2]
            out.extend(0.5 * (2 * p1 + (-p0 + p2) * t + (2 * p0 - 5 * p1 + 4 * p2 - p3) * t ** 2
                              + (-p0 + 3 * p1 - 3 * p2 + p3) * t ** 3))
    ox.append(xs[-1]); oy.append(ys[-1])
    return np.array(ox), np.array(oy)

# ---------------------------------------------------------------- figure
W, H = 2350, 1796
fig = plt.figure(figsize=(W / 100, H / 100), dpi=100)
fig.patch.set_facecolor("white")
L, R, T, B = 276, 2313, 180, 1649
ax = fig.add_axes([L / W, 1 - B / H, (R - L) / W, (B - T) / H])

tick_font = "Lato"
grid_c = "#888888"

dt = np.array(dtfr_pts_a + dtfr_pts_b + dtfr_pts_c + dtfr_pts_d + dtfr_pts_e + dtfr_pts_f +
              dtfr_pts_g + dtfr_pts_h + dtfr_pts_i + dtfr_pts_j)
ex = np.array(excl_pts_a + [(x, 0.0) for x in excl_zero_x] + excl_pts_b)

h1, = ax.plot(dt[:, 0], dt[:, 1], linestyle="none", marker="o", ms=9.5, mfc="none", mec="#99CCFF", mew=2.0,
              label="dTFR", zorder=3)
h2, = ax.plot(ex[:, 0], ex[:, 1], linestyle="none", marker="+", ms=13, mec="#BFBFBF", mew=1.6,
              label="dTFR (excluded, not in fertility transition)", zorder=3)
gx, gy = smooth(hist_x, hist_y)
ax.plot(gx, gy, color="#33CC33", lw=4.2, zorder=4, solid_capstyle="round")
ax.plot(hist_x, hist_y, linestyle="none", marker="s", ms=14.5, mfc="#00FF00", mec="black", mew=1.6, zorder=5)
h3 = Line2D([], [], color="#33CC33", lw=4.2, marker="s", ms=14.5, mfc="#00FF00", mec="black", mew=1.6,
            label="Histogram")
h4, = ax.plot(spl_hi_x, spl_hi_y, color="#31849B", lw=3.0, zorder=6, label="Spline (p = 0.99999)")
bx, by = smooth(spl_x, spl_005_y)
h5, = ax.plot(bx, by, color="#0000FF", lw=4.2, zorder=7, label="Spline (p = 0.05)", solid_capstyle="round")
rx, ry = smooth(spl_x, spl_gcv_y)
h6, = ax.plot(rx, ry, color="#FF0000", lw=5.5, zorder=8, label="spline (p = GCV) (final)", solid_capstyle="round")

ax.set_xlim(0, 9)
ax.set_ylim(-0.5, 1.5)
ax.set_yticks(y_ticks)
ax.set_yticklabels([f"{v:.3f}" if v != 0 else "0.000" for v in y_ticks])
ax.set_xticks(x_ticks)
ax.set_xticklabels([str(v) for v in x_ticks])
for lab in ax.get_xticklabels() + ax.get_yticklabels():
    lab.set_fontfamily(tick_font)
    lab.set_fontsize(20)
    lab.set_color("black")
ax.tick_params(axis="y", direction="out", length=7, width=1.6, color=grid_c, pad=13)
ax.tick_params(axis="x", direction="out", length=8, width=1.6, color=grid_c, pad=14)
ax.grid(False)
for v in y_ticks:
    ax.axhline(v, color=grid_c, lw=1.8, zorder=1)
for v in x_ticks[1:-1]:
    ax.axvline(v, color="#8c8c8c", lw=1.2, ls=(0, (1, 1.5)), zorder=1)
for s in ax.spines.values():
    s.set_color(grid_c)
    s.set_linewidth(1.8)

fig.text(1295 / W, 1 - 1740 / H, "Total Fertility Rate", ha="center", va="center",
         fontfamily=tick_font, fontsize=24)
fig.text(138 / W, 1 - 914 / H, "dTFR = TFR(Y) - TFR(Y+5)", ha="center", va="center", rotation=90,
         fontfamily=tick_font, fontsize=23.5)

leg = ax.legend(handles=[h1, h2, h3, h4, h5, h6], loc="upper left", bbox_to_anchor=(0.0147, 0.997),
                frameon=False, borderpad=0, borderaxespad=0, handlelength=1.42, handletextpad=0.12,
                labelspacing=0.6, numpoints=1, prop={"family": tick_font, "size": 28.5})
leg.get_texts()[5].set_fontweight("bold")
leg.set_zorder(20)

# annotations
arrow_c = "#BE4B48"
ann_font = "Liberation Sans"
arrows = [((7.175, 1.231), (6.455, 0.585)), ((1.846, -0.266), (1.503, -0.005)), ((4.977, -0.266), (2.945, 0.207))]
for start, tip in arrows:
    ax.annotate("", xy=tip, xytext=start, xycoords="data", textcoords="data", zorder=15,
                arrowprops=dict(arrowstyle="-|>,head_length=0.75,head_width=0.42", color=arrow_c, lw=4.3,
                                mutation_scale=26, shrinkA=0, shrinkB=0))

tr_lines = ["In the early stages of a fertility", "transition, fertility declines",
            "approximately at 0.5 children", "per decade"]
tr_base = [1.527, 1.441, 1.354, 1.268]
for s, yv in zip(tr_lines, tr_base):
    ax.text(7.18, yv, s, ha="center", va="baseline", fontfamily=ann_font, fontsize=38, zorder=30, clip_on=False)

br_lines = ["At advanced stages, pace of decline", "decelerates linearly reaching zero at a",
            "level of about 1.5 children per women."]
br_base = [-0.2432, -0.3294, -0.4171]
for s, yv in zip(br_lines, br_base):
    ax.text(6.88, yv, s, ha="center", va="baseline", fontfamily=ann_font, fontsize=38, zorder=30, clip_on=False)

bl_lines = [("The level of fertility approximately equal to 1.5 is", "normal"),
            ("a point of a stable equilibrium, the level to which", "normal"),
            ("all fertility trajectories will converge in a long", "bold"),
            ("run.", "bold")]
bl_base = [-0.3136, -0.393, -0.4714, -0.5497]
for (s, w), yv in zip(bl_lines, bl_base):
    ax.text(0.023, yv, s, ha="left", va="baseline", fontfamily=ann_font, fontsize=34.2, fontweight=w,
            zorder=30, clip_on=False)

# slide fragments cut by the image edges
fig.text(6 / W, 1 - 435 / H, "mortality :", rotation=90, rotation_mode="anchor", ha="left", va="baseline",
         color="#FF0000", fontweight="bold", fontfamily="Liberation Sans", fontsize=66)
for s, xr in (("3,5", 1279), ("(", 1552), ("3,5)", 1866)):
    fig.text(xr / W, 1 - 4 / H, s, ha="right", va="baseline", fontfamily="Lato", fontweight="bold", fontsize=40)
fig.add_artist(Line2D([2 / W, 2 / W], [0, 1 - 1040 / H], color="#d9d9d9", lw=2, transform=fig.transFigure))

fig.savefig("out.png", dpi=100, facecolor="white")
